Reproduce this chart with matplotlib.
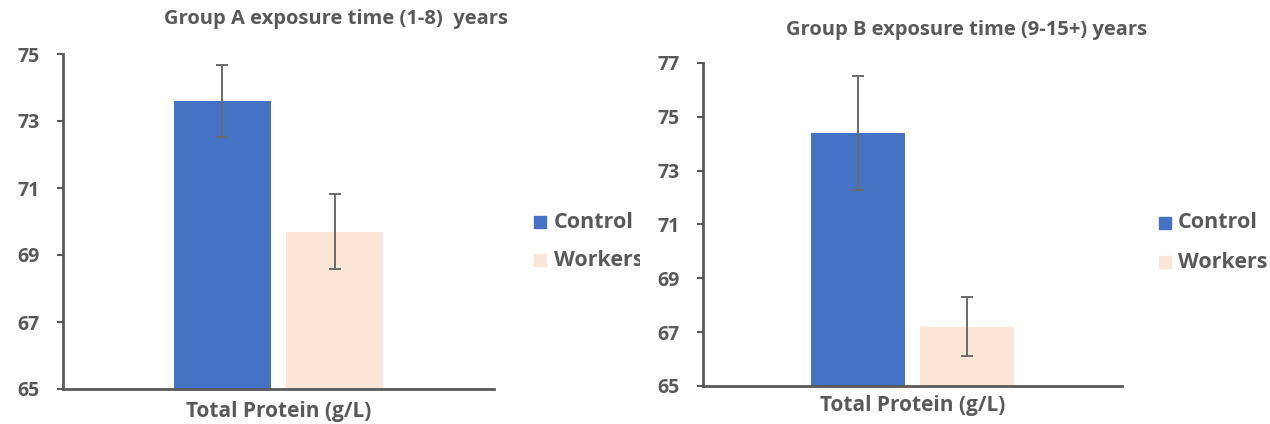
import matplotlib
matplotlib.use("Agg")
import matplotlib.pyplot as plt
from matplotlib.patches import Rectangle

# ---- data ----
series = ["Control", "Workers"]
xlabel = "Total Protein (g/L)"
titles = ["Group A exposure time (1-8)  years", "Group B exposure time (9-15+) years"]
groupA_means = [73.6, 69.7]
groupA_err = [1.07, 1.12]
groupB_means = [74.4, 67.2]
groupB_err = [2.1, 1.1]
yticksA = [65, 67, 69, 71, 73, 75]
yticksB = [65, 67, 69, 71, 73, 75, 77]

colors = ["#4472C4", "#FBE5D6"]
gray = "#595959"
FONT = "Open Sans"

W, H = 1270, 424
fig = plt.figure(figsize=(W / 100, H / 100), dpi=100)


def px_axes(x0, y0, x1, y1):
    return fig.add_axes([x0 / W, 1 - y1 / H, (x1 - x0) / W, (y1 - y0) / H])


def panel(ax, means, errs, yticks, title, title_x, title_y, xl_y):
    offsets = [-0.26, 0.26]
    for i in range(2):
        ax.bar(offsets[i], means[i] - yticks[0], bottom=yticks[0], width=0.45,
               color=colors[i], zorder=2)
        ax.errorbar(offsets[i], means[i], yerr=errs[i], color="#6b6b6b",
                    elinewidth=1.4, capsize=4, capthick=1.4, zorder=3)
    ax.set_xlim(-1, 1)
    ax.set_ylim(yticks[0], yticks[-1])
    ax.set_yticks(yticks)
    ax.set_xticks([])
    for s in ["top", "right"]:
        ax.spines[s].set_visible(False)
    for s in ["left", "bottom"]:
        ax.spines[s].set_color(gray)
        ax.spines[s].set_linewidth(2)
    ax.tick_params(axis="y", direction="out", length=4.5, width=1.5, color=gray,
                   pad=12, labelsize=14, labelcolor=gray)
    for lab in ax.get_yticklabels():
        lab.set_fontfamily(FONT)
        lab.set_fontweight("bold")
    bb = ax.get_position()
    cx = (bb.x0 + bb.x1) / 2
    fig.text(title_x / W, 1 - title_y / H, title, ha="center", va="center",
             fontsize=14.5, fontweight="bold", color=gray, family=FONT)
    fig.text(cx, 1 - xl_y / H, xlabel, ha="center", va="center", fontsize=15,
             fontweight="bold", color=gray, family=FONT)


axA = px_axes(63, 54, 494, 389)
panel(axA, groupA_means, groupA_err, yticksA, titles[0], 336, 19, 412)
axB = px_axes(703, 63, 1122, 386)
panel(axB, groupB_means, groupB_err, yticksB, titles[1], 967, 30, 405)


# legends drawn in pixel-space overlay axes (left one clipped at the panel edge)
def legend(x0, x1, sq_x, txt_x, ys):
    ov = px_axes(x0, 0, x1, H)
    ov.set_xlim(x0, x1)
    ov.set_ylim(H, 0)
    ov.axis("off")
    for i, name in enumerate(series):
        ov.add_patch(Rectangle((sq_x, ys[i] - 6), 12, 12, color=colors[i],
                               clip_on=True))
        ov.text(txt_x, ys[i], name, ha="left", va="center", fontsize=15.5,
                fontweight="bold", color=gray, family=FONT, clip_on=True)


legend(500, 640, 534, 554, [222, 260])
legend(1140, 1270, 1159, 1178, [223, 262])

fig.savefig("out.png", dpi=100)
